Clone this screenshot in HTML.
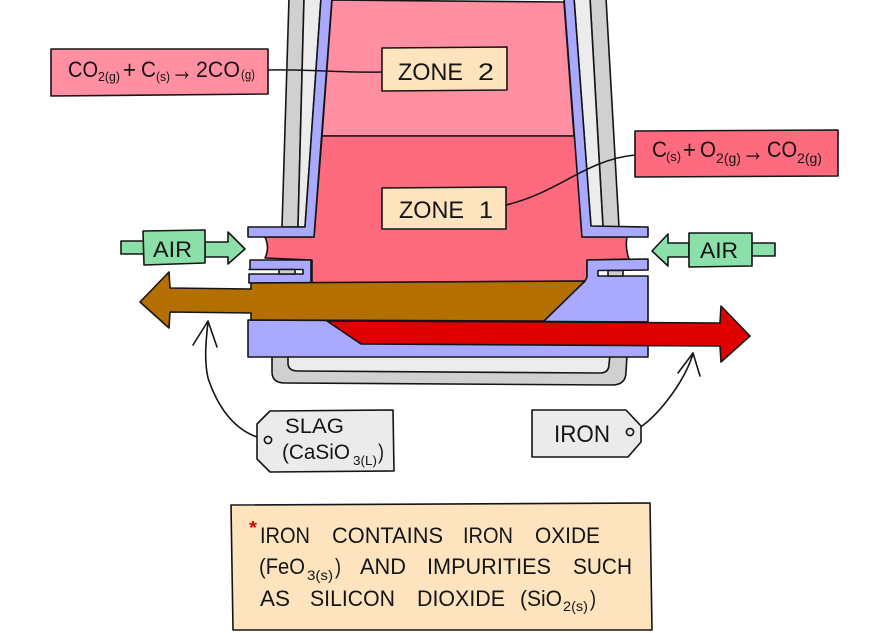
<!DOCTYPE html>
<html><head><meta charset="utf-8"><style>
html,body{margin:0;padding:0;background:#fff}
svg{display:block}
text{font-family:"Liberation Sans",sans-serif;fill:#151515;stroke:none}
</style></head><body>
<svg width="880" height="633" viewBox="0 0 880 633" xmlns="http://www.w3.org/2000/svg" stroke="#151515" stroke-width="1.6" stroke-linejoin="round" stroke-linecap="round">
<!-- walls -->
<polygon points="289,-2 304,-2 298,227 282,227" fill="#d0d0d0"/>
<polygon points="304,-2 321,-2 305,227 298,227" fill="#ececec"/>
<polygon points="590,-2 606,-2 619,227 603,227" fill="#d0d0d0"/>
<polygon points="574,-2 590,-2 603,227 591,227" fill="#ececec"/>
<!-- bottom tray -->
<path d="M272 355 L272 372 Q272 383 285 383 L612 385 Q626 385 626 372 L627 355 Z" fill="#d0d0d0"/>
<path d="M288 355 L288 363 Q288 371 298 371 L600 373 Q609 373 609 364 L610 355 Z" fill="#ececec"/>
<!-- furnace interior -->
<polygon points="332,0 564,2 574,136 322,136" fill="#ff8fa1"/>
<path d="M322 136 L575 136 L582 237 L627 237 Q625 248 629 259 L587 260 L587 281 L312 283 L312 260 L265 258 Q270 248 265 237 L314 237 Z" fill="#ff6b7e"/>
<!-- blue lining -->
<path d="M321 -2 L305 227 L248 227 L248 237 L314 237 L332 -2 Z" fill="#a9a9ff"/>
<path d="M564 -2 L582 237 L648 237 L648 227 L591 226 L574 -2 Z" fill="#a9a9ff"/>
<path d="M250 260 L311 260 L311 283 L249 283 L249 274 L250 269 Z" fill="#a9a9ff"/>
<rect x="248" y="269.5" width="55" height="4.5" fill="#fff" stroke="none"/>
<path d="M249 269.5 L303 269.5 L303 274 L249 274" fill="none"/>
<rect x="279" y="269.5" width="16" height="4.5" fill="#cfcfcf"/>
<path d="M587 260 L648 259 L648 322 L540 322 L585 281 L587 277 Z" fill="#a9a9ff"/>
<rect x="598" y="270.5" width="52" height="5.5" fill="#fff" stroke="none"/>
<path d="M648 270 L598 270.5 L598 276 L648 276" fill="none"/>
<rect x="608" y="270.5" width="15" height="5.5" fill="#cfcfcf"/>
<path d="M248 320 L648 322 L648 357 L248 357 Z" fill="#a9a9ff"/>
<!-- slag arrow -->
<polygon points="140,302 169,272 170,288 251,289 251,283 585,281 544,321 251,320 251,313 170,312 169,328" fill="#b37000"/>
<!-- iron arrow -->
<polygon points="327,321 544,322 720,323 721,306 750,336 721,362 720,346 361,344" fill="#e00000"/>
<!-- AIR left -->
<polygon points="205,242 228,242 228,232 245,249 228,264 228,257 205,257" fill="#8ae0a8"/>
<rect x="121" y="241" width="23" height="13" fill="#8ae0a8"/>
<polygon points="143,231 205,230 205,263 144,265" fill="#8ae0a8"/>
<text x="153" y="257" font-size="22" textLength="39" lengthAdjust="spacingAndGlyphs">AIR</text>
<!-- AIR right -->
<polygon points="689,243 668,243 668,234 652,251 668,266 668,257 689,257" fill="#8ae0a8"/>
<rect x="751" y="243" width="24" height="13" fill="#8ae0a8"/>
<polygon points="689,233 752,233 752,266 689,267" fill="#8ae0a8"/>
<text x="700" y="258" font-size="22" textLength="38" lengthAdjust="spacingAndGlyphs">AIR</text>
<!-- connectors -->
<path d="M268 70 C310 69 340 73 382 72" fill="none"/>
<path d="M506 205 C560 192 585 160 635 155" fill="none"/>
<path d="M264 439 C232 432 216 402 208 378 C204 360 206 340 208 322" fill="none"/>
<path d="M193 345 L208 321 L217 347" fill="none"/>
<path d="M634 431 C655 420 683 385 693 354" fill="none"/>
<path d="M678 373 L693 353 L700 376" fill="none"/>
<!-- zone boxes -->
<polygon points="382,48 507,47 507,90 382,91" fill="#fde4bf"/>
<text x="398" y="80" font-size="24" textLength="65" lengthAdjust="spacingAndGlyphs">ZONE</text>
<text x="478" y="80" font-size="24" textLength="16" lengthAdjust="spacingAndGlyphs">2</text>
<polygon points="382,188 506,187 506,229 382,229" fill="#fde4bf"/>
<text x="399" y="218" font-size="24" textLength="65" lengthAdjust="spacingAndGlyphs">ZONE</text>
<text x="479" y="218" font-size="24" textLength="14" lengthAdjust="spacingAndGlyphs">1</text>
<!-- reaction left -->
<polygon points="51,49 268,49 268,94 51,96" fill="#ff8fa1"/>
<text x="68" y="77" font-size="22" textLength="30" lengthAdjust="spacingAndGlyphs">CO</text>
<text x="98" y="81" font-size="13" textLength="22" lengthAdjust="spacingAndGlyphs">2(g)</text>
<text x="123" y="78" font-size="25" textLength="13" lengthAdjust="spacingAndGlyphs">+</text>
<text x="141" y="77" font-size="22" textLength="15" lengthAdjust="spacingAndGlyphs">C</text>
<text x="156" y="81" font-size="13" textLength="14" lengthAdjust="spacingAndGlyphs">(s)</text>
<text x="171" y="80" font-size="30" textLength="22" lengthAdjust="spacingAndGlyphs">→</text>
<text x="196" y="77" font-size="22" textLength="44" lengthAdjust="spacingAndGlyphs">2CO</text>
<text x="241" y="79" font-size="13" textLength="14" lengthAdjust="spacingAndGlyphs">(g)</text>
<!-- reaction right -->
<polygon points="635,131 838,130 838,176 635,177" fill="#ff6b7e"/>
<text x="652" y="157" font-size="22" textLength="15" lengthAdjust="spacingAndGlyphs">C</text>
<text x="666" y="161" font-size="13" textLength="15" lengthAdjust="spacingAndGlyphs">(s)</text>
<text x="683" y="158" font-size="25" textLength="13" lengthAdjust="spacingAndGlyphs">+</text>
<text x="700" y="157" font-size="22" textLength="16" lengthAdjust="spacingAndGlyphs">O</text>
<text x="716" y="163" font-size="14" textLength="25" lengthAdjust="spacingAndGlyphs">2(g)</text>
<text x="742" y="161" font-size="30" textLength="22" lengthAdjust="spacingAndGlyphs">→</text>
<text x="767" y="157" font-size="22" textLength="30" lengthAdjust="spacingAndGlyphs">CO</text>
<text x="797" y="163" font-size="14" textLength="25" lengthAdjust="spacingAndGlyphs">2(g)</text>
<!-- SLAG tag -->
<polygon points="270,411 393,410 394,471 270,472 257,459 257,424" fill="#ebebeb"/>
<circle cx="268" cy="440" r="3.6" fill="none"/>
<text x="285" y="433" font-size="21" textLength="59" lengthAdjust="spacingAndGlyphs">SLAG</text>
<text x="282" y="459" font-size="21" textLength="68" lengthAdjust="spacingAndGlyphs">(CaSiO</text>
<text x="353" y="465" font-size="13" textLength="24" lengthAdjust="spacingAndGlyphs">3(L)</text>
<text x="378" y="459" font-size="21" textLength="6" lengthAdjust="spacingAndGlyphs">)</text>
<!-- IRON tag -->
<polygon points="532,410 626,410 641,426 641,442 628,457 532,457" fill="#ebebeb"/>
<circle cx="630" cy="432" r="3.6" fill="none"/>
<text x="554" y="442" font-size="24" textLength="56" lengthAdjust="spacingAndGlyphs">IRON</text>
<!-- note -->
<polygon points="231,505 650,503 652,630 233,630" fill="#fde4bf"/>
<text x="249" y="534" font-size="18" font-weight="bold" style="fill:#e00000" textLength="8" lengthAdjust="spacingAndGlyphs">*</text>
<g font-size="22">
<text x="260" y="543" textLength="50" lengthAdjust="spacingAndGlyphs">IRON</text>
<text x="332" y="543" textLength="111" lengthAdjust="spacingAndGlyphs">CONTAINS</text>
<text x="463" y="543" textLength="50" lengthAdjust="spacingAndGlyphs">IRON</text>
<text x="535" y="543" textLength="65" lengthAdjust="spacingAndGlyphs">OXIDE</text>
<text x="259" y="574" textLength="46" lengthAdjust="spacingAndGlyphs">(FeO</text>
<text x="360" y="574" textLength="46" lengthAdjust="spacingAndGlyphs">AND</text>
<text x="427" y="574" textLength="124" lengthAdjust="spacingAndGlyphs">IMPURITIES</text>
<text x="573" y="574" textLength="59" lengthAdjust="spacingAndGlyphs">SUCH</text>
<text x="260" y="606" textLength="30" lengthAdjust="spacingAndGlyphs">AS</text>
<text x="310" y="606" textLength="85" lengthAdjust="spacingAndGlyphs">SILICON</text>
<text x="417" y="606" textLength="88" lengthAdjust="spacingAndGlyphs">DIOXIDE</text>
<text x="520" y="606" textLength="42" lengthAdjust="spacingAndGlyphs">(SiO</text>
<text x="335" y="574" textLength="6" lengthAdjust="spacingAndGlyphs">)</text>
<text x="590" y="606" textLength="6" lengthAdjust="spacingAndGlyphs">)</text>
</g>
<text x="307" y="580" font-size="14" textLength="26" lengthAdjust="spacingAndGlyphs">3(s)</text>
<text x="563" y="611" font-size="14" textLength="25" lengthAdjust="spacingAndGlyphs">2(s)</text>
</svg>
</body></html>
